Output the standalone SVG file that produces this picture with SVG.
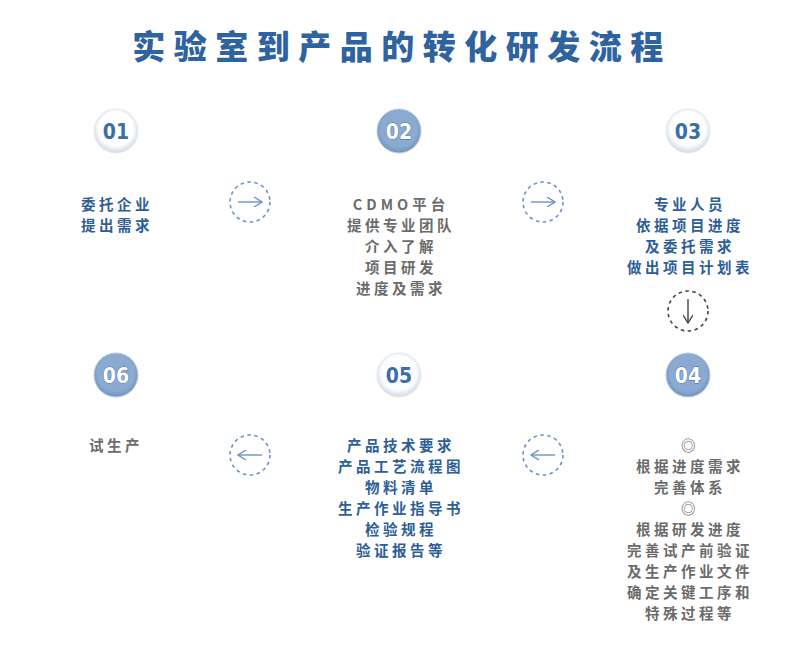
<svg xmlns="http://www.w3.org/2000/svg" width="800" height="657" viewBox="0 0 800 657">
<defs>
<radialGradient id="lg" cx="50%" cy="45%" r="55%">
<stop offset="0.7" stop-color="#ffffff"/>
<stop offset="1" stop-color="#cfd9e6"/>
</radialGradient>
<radialGradient id="dg" cx="50%" cy="45%" r="55%">
<stop offset="0.75" stop-color="#8aaad0"/>
<stop offset="1" stop-color="#6e93c0"/>
</radialGradient>
<marker id="ah" viewBox="0 0 10 10" refX="9" refY="5" markerWidth="10" markerHeight="10" markerUnits="userSpaceOnUse" orient="auto">
<path d="M1,0 L9,5 L1,10" fill="none" stroke="context-stroke" stroke-width="1.4"/>
</marker>
</defs>
<style>
text{font-family:"Noto Sans CJK SC","Noto Sans",sans-serif;font-weight:bold;}
.title{font-size:33px;fill:#2e63a0;letter-spacing:8.5px;font-weight:900;}
.blue{font-size:14.5px;fill:#2d5e98;letter-spacing:3.5px;}
.grey{font-size:14.5px;fill:#6b6b6b;letter-spacing:3.5px;}
.lb{fill:url(#lg);stroke:#e3e9f1;stroke-width:1;}
.db{fill:url(#dg);stroke:#b9cbe2;stroke-width:1;}
.ln{font-family:"DejaVu Sans Condensed","Liberation Sans",sans-serif;font-size:21px;font-weight:bold;fill:#3a6ea8;}
.dn{font-family:"DejaVu Sans Condensed","Liberation Sans",sans-serif;font-size:21px;font-weight:bold;fill:#ffffff;stroke:#3a6ea8;stroke-width:0.8;paint-order:stroke;}
.dc{fill:none;stroke:#6a93c4;stroke-width:1.6;stroke-dasharray:3.5 3.5;}
.dk{fill:none;stroke:#444444;stroke-width:1.6;stroke-dasharray:3.5 3.5;}
.ar{fill:none;stroke:#6a93c4;stroke-width:1.4;}
.ak{fill:none;stroke:#444444;stroke-width:1.4;}
</style>
<rect width="800" height="657" fill="#ffffff"/>
<text class="title" x="402" y="59" text-anchor="middle">实验室到产品的转化研发流程</text>

<g id="n1">
<circle class="lb" cx="116" cy="131" r="22"/>
<text class="ln" x="116" y="139" text-anchor="middle">01</text>
<text class="blue" x="81" y="210">委托企业</text>
<text class="blue" x="81" y="231">提出需求</text>
</g>
<g id="n2">
<circle class="db" cx="399" cy="131" r="22"/>
<text class="dn" x="399" y="139" text-anchor="middle">02</text>
<g text-anchor="middle">
<text class="grey" x="401" y="210" style="letter-spacing:4px">CDMO平台</text>
<text class="grey" x="401" y="231">提供专业团队</text>
<text class="grey" x="401" y="252">介入了解</text>
<text class="grey" x="401" y="273">项目研发</text>
<text class="grey" x="401" y="294">进度及需求</text>
</g>
</g>
<g id="n3">
<circle class="lb" cx="688" cy="131" r="22"/>
<text class="ln" x="688" y="139" text-anchor="middle">03</text>
<g text-anchor="middle">
<text class="blue" x="690" y="210">专业人员</text>
<text class="blue" x="690" y="231">依据项目进度</text>
<text class="blue" x="690" y="252">及委托需求</text>
<text class="blue" x="690" y="273">做出项目计划表</text>
</g>
</g>
<g id="n4">
<circle class="db" cx="688" cy="375" r="22"/>
<text class="dn" x="688" y="383" text-anchor="middle">04</text>
<g text-anchor="middle">
<text class="grey" x="690" y="451">◎</text>
<text class="grey" x="690" y="472">根据进度需求</text>
<text class="grey" x="690" y="493">完善体系</text>
<text class="grey" x="690" y="514">◎</text>
<text class="grey" x="690" y="535">根据研发进度</text>
<text class="grey" x="690" y="556">完善试产前验证</text>
<text class="grey" x="690" y="577">及生产作业文件</text>
<text class="grey" x="690" y="598">确定关键工序和</text>
<text class="grey" x="690" y="619">特殊过程等</text>
</g>
</g>
<g id="n5">
<circle class="lb" cx="399" cy="375" r="22"/>
<text class="ln" x="399" y="383" text-anchor="middle">05</text>
<g text-anchor="middle">
<text class="blue" x="401" y="451">产品技术要求</text>
<text class="blue" x="401" y="472">产品工艺流程图</text>
<text class="blue" x="401" y="493">物料清单</text>
<text class="blue" x="401" y="514">生产作业指导书</text>
<text class="blue" x="401" y="535">检验规程</text>
<text class="blue" x="401" y="556">验证报告等</text>
</g>
</g>
<g id="n6">
<circle class="db" cx="116" cy="375" r="22"/>
<text class="dn" x="116" y="383" text-anchor="middle">06</text>
<text class="grey" x="89" y="451">试生产</text>
</g>

<g id="connectors">
<circle class="dc" cx="250" cy="202" r="20"/>
<line class="ar" x1="238" y1="202" x2="262" y2="202" marker-end="url(#ah)"/>
<circle class="dc" cx="543" cy="202" r="20"/>
<line class="ar" x1="531" y1="202" x2="555" y2="202" marker-end="url(#ah)"/>
<circle class="dk" cx="688" cy="311" r="20"/>
<line class="ak" x1="688" y1="299" x2="688" y2="323" marker-end="url(#ah)"/>
<circle class="dc" cx="543" cy="455" r="20"/>
<line class="ar" x1="555" y1="455" x2="531" y2="455" marker-end="url(#ah)"/>
<circle class="dc" cx="250" cy="455" r="20"/>
<line class="ar" x1="262" y1="455" x2="238" y2="455" marker-end="url(#ah)"/>
</g>
</svg>
